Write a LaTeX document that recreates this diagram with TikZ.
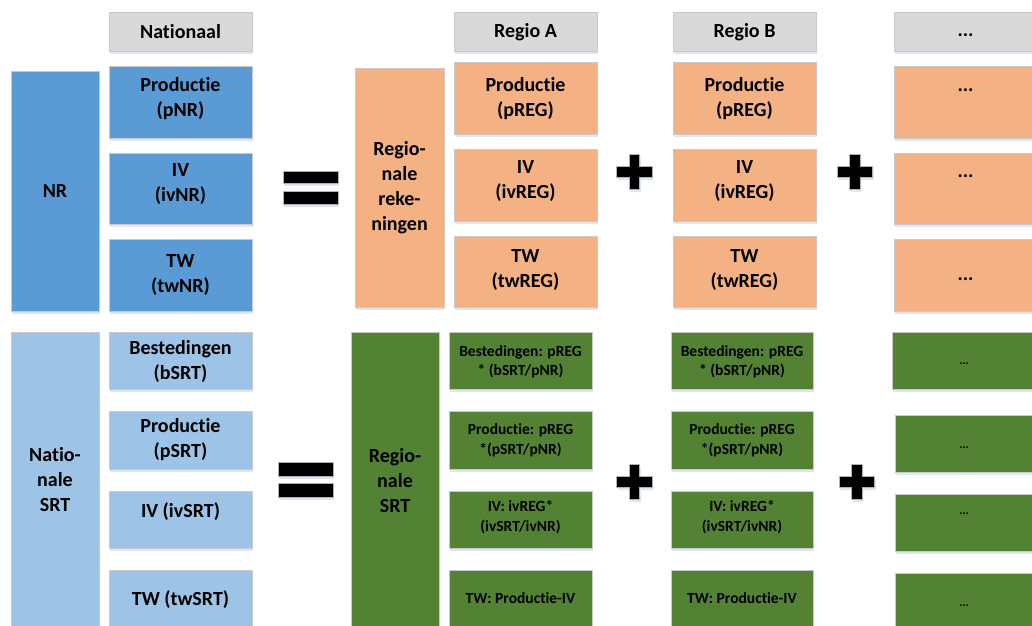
\documentclass[tikz,border=0pt]{standalone}
\usepackage{fontspec}
\setmainfont{Carlito}[Ligatures=NoCommon]
\usetikzlibrary{fit,shadows}
\definecolor{cBlue}{HTML}{5B9BD5}
\definecolor{cLBlue}{HTML}{9DC3E6}
\definecolor{cOrange}{HTML}{F4B183}
\definecolor{cGreen}{HTML}{548235}
\definecolor{cGray}{HTML}{D9D9D9}
\definecolor{cEdge}{HTML}{C9C9C9}
\definecolor{cShadow}{HTML}{DDE7F3}
\tikzset{
  box/.style={inner sep=0pt, outer sep=0pt, draw=cEdge, line width=0.8pt,
    drop shadow={shadow xshift=1pt, shadow yshift=-2.5pt, fill=cShadow, opacity=1}},
  hdr/.style={box, fill=cGray},
  blu/.style={box, fill=cBlue},
  lblu/.style={box, fill=cLBlue},
  ora/.style={box, fill=cOrange},
  grn/.style={box, fill=cGreen},
  big/.style={font=\bfseries\fontsize{20}{25}\selectfont, align=center, inner sep=0pt, text=black},
  mid/.style={font=\bfseries\fontsize{15.5}{19.5}\selectfont, align=center, inner sep=0pt, text=black},
  tiny/.style={font=\bfseries\fontsize{12.5}{15}\selectfont, align=center, inner sep=0pt, text=black},
  sign/.style={fill=black, draw=black!30, line width=0.6pt,
    drop shadow={shadow xshift=1pt, shadow yshift=-2.5pt, fill=cShadow, opacity=1}},
}
\newcommand\bx[6]{\node[#2, fit={(#3,#4) (#5,#6)}] (#1) {};}
\newcommand\plussign[3]{\draw[sign] (#2,#3) ++(-5.25,-17.5) -- ++(10.5,0) -- ++(0,12) -- ++(12.5,0) -- ++(0,11) -- ++(-12.5,0) -- ++(0,12) -- ++(-10.5,0) -- ++(0,-12) -- ++(-12.5,0) -- ++(0,-11) -- ++(12.5,0) -- cycle;}
\begin{document}
\begin{tikzpicture}[x=1pt, y=-1pt]
\useasboundingbox (0,0) rectangle (1032,625);
\clip (0,0) rectangle (1032,625);
\fill[white] (0,0) rectangle (1032,625);

% headers
\bx{hN}{hdr}{109}{12}{252}{51}
\bx{hA}{hdr}{454}{12}{597}{51}
\bx{hB}{hdr}{673}{12}{816}{51}
\bx{hD}{hdr}{894}{12}{1037}{51}
\node[big] (thN) at (180.5,32) {Nationaal};
\node[big] (thA) at (525.5,32) {Regio A};
\node[big] (thB) at (744.5,32) {Regio B};
\node[big] (thD) at (965.5,35) {...};

% top section
\bx{NR}{blu}{11}{71}{99}{311}
\bx{pNR}{blu}{109}{66}{252}{138}
\bx{ivNR}{blu}{109}{153}{252}{224}
\bx{twNR}{blu}{109}{239}{252}{311}
\node[big] (tNR) at (55,191) {NR};
\node[big] (tpNR) at (180.5,99) {Productie\\(pNR)};
\node[big] (tivNR) at (180.5,184.5) {IV\\(ivNR)};
\node[big] (ttwNR) at (180.5,275.5) {TW\\(twNR)};

\bx{RR}{ora}{355}{68}{444}{307}
\node[big] (tRR) at (399.5,187.5) {Regio-\\nale\\reke-\\ningen};

\bx{pA}{ora}{454}{62}{597}{134}
\bx{ivA}{ora}{454}{149}{597}{221}
\bx{twA}{ora}{454}{236}{597}{307}
\node[big] (tpA) at (525.5,99) {Productie\\(pREG)};
\node[big] (tivA) at (525.5,181.5) {IV\\(ivREG)};
\node[big] (ttwA) at (525.5,270.5) {TW\\(twREG)};

\bx{pB}{ora}{673}{62}{816}{134}
\bx{ivB}{ora}{673}{149}{816}{221}
\bx{twB}{ora}{673}{236}{816}{307}
\node[big] (tpB) at (744.5,99) {Productie\\(pREG)};
\node[big] (tivB) at (744.5,181.5) {IV\\(ivREG)};
\node[big] (ttwB) at (744.5,270.5) {TW\\(twREG)};

\bx{pD}{ora}{894}{66}{1037}{138}
\bx{ivD}{ora}{894}{153}{1037}{224}
\bx{twD}{ora}{894}{239}{1037}{311}
\node[big] (tpD) at (965.5,90) {...};
\node[big] (tivD) at (965.5,176) {...};
\node[big] (ttwD) at (965.5,279) {...};

% bottom section
\bx{NSRT}{lblu}{11}{332}{99}{640}
\bx{bSRT}{lblu}{109}{332}{252}{389}
\bx{pSRT}{lblu}{109}{411}{252}{469}
\bx{ivSRT}{lblu}{109}{491}{252}{548}
\bx{twSRT}{lblu}{109}{570}{252}{640}
\node[big] (tNSRT) at (55,480) {Natio-\\nale\\SRT};
\node[big] (tbSRT) at (180.5,361) {Bestedingen\\(bSRT)};
\node[big] (tpSRT) at (180.5,440) {Productie\\(pSRT)};
\node[big] (tivSRT) at (180.5,512) {IV (ivSRT)};
\node[big] (ttwSRT) at (180.5,600) {TW (twSRT)};

\bx{RSRT}{grn}{351}{332}{439}{640}
\node[big] (tRSRT) at (395,481) {Regio-\\nale\\SRT};

\bx{gA1}{grn}{449}{332}{592}{389}
\bx{gA2}{grn}{449}{411}{592}{469}
\bx{gA3}{grn}{449}{491}{592}{548}
\bx{gA4}{grn}{449}{570}{592}{640}
\node[mid] (tgA1) at (520.5,362) {Bestedingen: pREG\\* (bSRT/pNR)};
\node[mid] (tgA2) at (520.5,440.5) {Productie: pREG\\*(pSRT/pNR)};
\node[mid] (tgA3) at (520.5,517) {IV: ivREG*\\(ivSRT/ivNR)};
\node[mid] (tgA4) at (520.5,598) {TW: Productie-IV};

\bx{gB1}{grn}{671}{332}{813}{389}
\bx{gB2}{grn}{671}{411}{813}{469}
\bx{gB3}{grn}{671}{491}{813}{548}
\bx{gB4}{grn}{671}{570}{813}{640}
\node[mid] (tgB1) at (742,362) {Bestedingen: pREG\\* (bSRT/pNR)};
\node[mid] (tgB2) at (742,440.5) {Productie: pREG\\*(pSRT/pNR)};
\node[mid] (tgB3) at (742,517) {IV: ivREG*\\(ivSRT/ivNR)};
\node[mid] (tgB4) at (742,598) {TW: Productie-IV};

\bx{gD1}{grn}{892}{332}{1037}{389}
\bx{gD2}{grn}{895}{415}{1040}{472}
\bx{gD3}{grn}{895}{494}{1040}{551}
\bx{gD4}{grn}{895}{573}{1040}{640}
\node[tiny] (tgD1) at (964,364) {...};
\node[tiny] (tgD2) at (964,448) {...};
\node[tiny] (tgD3) at (964,514) {...};
\node[tiny] (tgD4) at (964,606) {...};

% equals signs
\draw[sign] (283,171) rectangle (338,183);
\draw[sign] (283,191) rectangle (338,204);
\draw[sign] (278,462) rectangle (333,476);
\draw[sign] (278,483) rectangle (333,497);

% plus signs
\plussign{p1}{634.5}{172}
\plussign{p2}{855}{172}
\plussign{p3}{634.5}{482}
\plussign{p4}{857}{482}
\end{tikzpicture}
\end{document}
